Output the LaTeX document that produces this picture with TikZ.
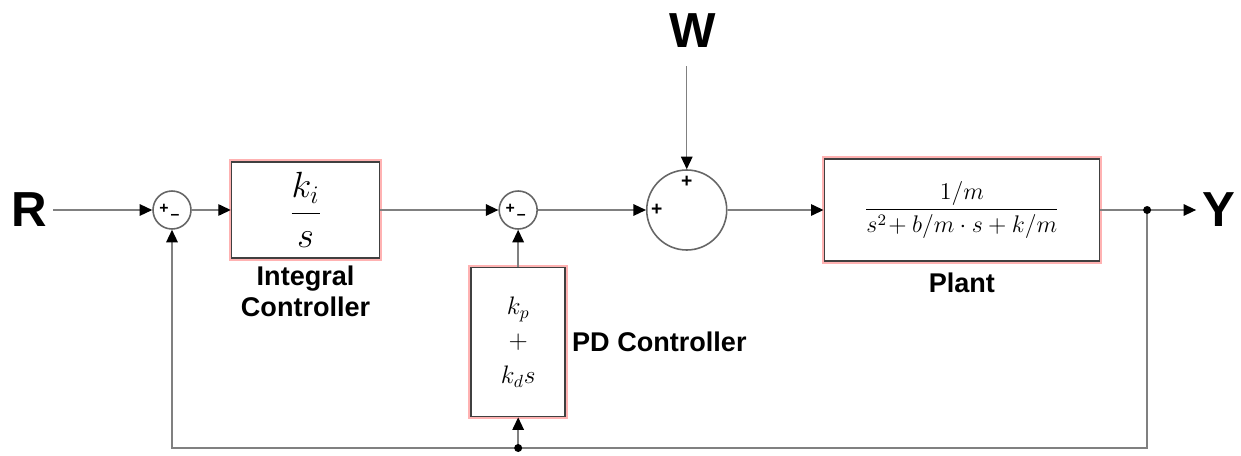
\documentclass[tikz,border=0pt]{standalone}
\usepackage{amsmath}
\usepackage{graphicx}
\usepackage[no-math]{fontspec}
\newfontfamily\arialfont{Liberation Sans}
\usetikzlibrary{arrows.meta,positioning,calc}

\begin{document}
\begin{tikzpicture}[>={Triangle[length=0.25cm,width=0.23cm,color=black]},
  line/.style={draw=black!50, line width=0.8pt},
  blk/.style={draw=black!75, line width=0.9pt, fill=white, preaction={draw=red!30, line width=3.2pt}},
  sumc/.style={circle, draw=black!60, line width=0.9pt, fill=white, minimum size=0.76cm, inner sep=0pt},
  sig/.style={font=\arialfont\bfseries\fontsize{9}{9}\selectfont, inner sep=0pt},
  io/.style={font=\arialfont\bfseries\fontsize{28}{30}\selectfont},
  blklbl/.style={font=\arialfont\bfseries\fontsize{15.4}{17.6}\selectfont, align=center}]
  \useasboundingbox (0,0) rectangle (24.82,-9.12);

  \node[sumc] (s1) at (3.44,-4.2) {};
  \node[blk, minimum width=2.96cm, minimum height=1.92cm, right=0.78cm of s1] (int) {\fontsize{20.74}{24}\selectfont $\dfrac{k_i}{s}$};
  \node[sumc, right=2.36cm of int] (s2) {};
  \node[sumc, minimum size=1.6cm, right=2.16cm of s2] (s3) {};
  \node[blk, minimum width=5.5cm, minimum height=2.04cm, right=1.92cm of s3] (plant) {\fontsize{12}{14}\selectfont \scalebox{1.14}{$\dfrac{1/m}{s^2\!+b/m\cdot s+k/m}$}};
  \node[blk, minimum width=1.88cm, minimum height=2.98cm, align=center, font=\fontsize{14.4}{19.5}\selectfont, below=0.74cm of s2] (pd) {$k_p$\\$+$\\$k_d s$};

  \node[io, left=1.98cm of s1] (R) {R};
  \node[io, above=2.32cm of s3, xshift=0.12cm] (W) {W};
  \coordinate[right=0.94cm of plant] (br);
  \node[io, right=0.98cm of br] (Y) {Y};
  \coordinate (fb) at ($(br)+(0,-4.76)$);
  \coordinate (pdin) at (pd.south |- fb);

  \node[blklbl, below=0.02cm of int] (intlbl) {Integral\\Controller};
  \node[blklbl, below=0.1cm of plant] (plantlbl) {Plant};
  \node[blklbl, right=0cm of pd] (pdlbl) {PD Controller};

  % signs on the summing points
  \foreach \s in {s1,s2} {
    \node[sig] at ([shift={(-0.16,0.02)}]\s.center) {+};
    \node[sig] at ([shift={(0.06,-0.13)}]\s.center) {\textendash};
  }
  \node[sig, font=\arialfont\bfseries\fontsize{11}{11}\selectfont] at ([xshift=-0.6cm]s3.center) {+};
  \node[sig, font=\arialfont\bfseries\fontsize{11}{11}\selectfont] at ([yshift=0.56cm]s3.center) {+};

  \draw[line,->] (R) -- (s1);
  \draw[line,->] (s1) -- (int);
  \draw[line,->] (int) -- (s2);
  \draw[line,->] (s2) -- (s3);
  \draw[line,->] (s3) -- (plant);
  \draw[line,->] (plant) -- (Y);
  \draw[line,->,shorten <=0.26cm] (s3 |- W.south) -- (s3);
  \draw[line,->] (pd) -- (s2);
  \draw[line,->] (br) |- (pdin) -| (s1);
  \draw[line,->] (pdin) -- (pd);
  \fill (br) circle (0.08);
  \fill (pdin) circle (0.08);
\end{tikzpicture}
\end{document}
